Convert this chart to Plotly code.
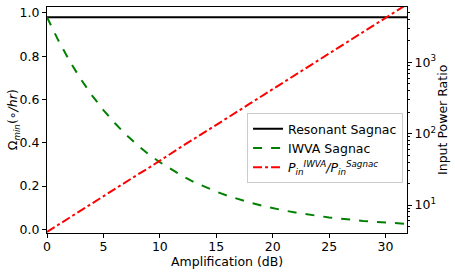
import plotly.graph_objects as go

amp_db = list(range(0, 33))
resonant = [0.98] * 33
iwva = [0.98, 0.873, 0.778, 0.693, 0.618, 0.551, 0.491, 0.437, 0.390, 0.347, 0.31,
        0.276, 0.246, 0.219, 0.195, 0.174, 0.155, 0.138, 0.123, 0.110, 0.098,
        0.087, 0.078, 0.069, 0.062, 0.055, 0.049, 0.044, 0.039, 0.035, 0.031, 0.028, 0.025]
power_ratio = [4.2, 5.3, 6.7, 8.4, 10.5, 13.3, 16.7, 21, 26.5, 33, 42, 53, 67, 84, 105,
               133, 167, 210, 265, 333, 420, 530, 667, 840, 1055, 1330, 1670, 2100,
               2650, 3330, 4200, 5300, 6650]

x_ticks = [0, 5, 10, 15, 20, 25, 30]
y_ticks = [0.0, 0.2, 0.4, 0.6, 0.8, 1.0]
y2_ticks = [10, 100, 1000]
y2_labels = ["10<sup>1</sup>", "10<sup>2</sup>", "10<sup>3</sup>"]

FONT = "DejaVu Sans"
FS = 12.5

fig = go.Figure()
fig.add_trace(go.Scatter(x=amp_db, y=resonant, mode="lines", name="Resonant Sagnac",
                         line=dict(color="black", width=2), yaxis="y"))
fig.add_trace(go.Scatter(x=amp_db, y=iwva, mode="lines", name="IWVA Sagnac",
                         line=dict(color="green", width=2, dash="dash"), yaxis="y"))
fig.add_trace(go.Scatter(x=amp_db, y=power_ratio, mode="lines",
                         name="<i>P</i><sub><i>in</i></sub><sup><i>IWVA</i></sup><i>/P</i><sub><i>in</i></sub><sup><i>Sagnac</i></sup>",
                         line=dict(color="red", width=2, dash="dashdot"), yaxis="y2"))

axis_common = dict(showgrid=False, zeroline=False, showline=True, linecolor="black",
                   linewidth=1, ticks="outside", ticklen=4, tickcolor="black",
                   automargin=False,
                   tickfont=dict(family=FONT, size=FS, color="black"))

fig.update_layout(
    width=455, height=273,
    margin=dict(l=47, r=48, t=7, b=40),
    plot_bgcolor="white", paper_bgcolor="white",
    font=dict(family=FONT, size=FS, color="black"),
    xaxis=dict(range=[0, 31.9], tickvals=x_ticks, mirror=True, ticklabelstandoff=-2,
               **axis_common),
    yaxis=dict(range=[-0.017, 1.027], tickvals=y_ticks, tickformat=".1f", **axis_common),
    yaxis2=dict(type="log", range=[0.608, 3.775], overlaying="y", side="right",
                tickvals=y2_ticks, ticktext=y2_labels,
                minor=dict(ticks="outside", ticklen=2, tickcolor="black",
                           tickvals=[5,6,7,8,9,20,30,40,50,60,70,80,90,200,300,400,500,600,700,800,900,2000,3000,4000,5000]),
                **axis_common),
    legend=dict(x=0.989, y=0.53, xanchor="right", yanchor="top",
                bgcolor="rgba(255,255,255,0.8)", bordercolor="#cccccc", borderwidth=1,
                font=dict(family=FONT, size=FS), tracegroupgap=0, itemwidth=30),
    showlegend=True,
    annotations=[
        dict(text="Amplification (dB)", xref="paper", yref="paper", x=0.5, y=-0.125,
             xanchor="center", yanchor="middle", showarrow=False, font=dict(size=FS)),
        dict(text="Ω<sub><i>min</i></sub>(∘<i>/hr</i>)", xref="paper", yref="paper",
             x=-0.094, y=0.5, xanchor="center", yanchor="middle", textangle=-90,
             showarrow=False, font=dict(size=FS)),
        dict(text="Input Power Ratio", xref="paper", yref="paper", x=1.097, y=0.5,
             xanchor="center", yanchor="middle", textangle=-90, showarrow=False,
             font=dict(size=FS)),
    ],
)

fig.write_html("out.html", config={"displayModeBar": False},
               post_script="document.body.style.margin='0';")
